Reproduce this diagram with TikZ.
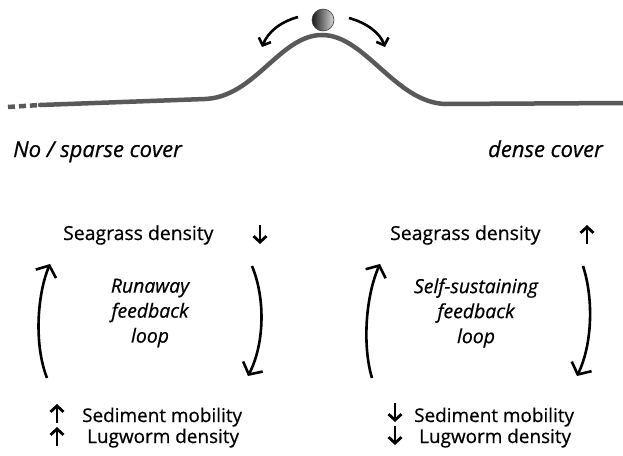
\documentclass[tikz,border=0pt]{standalone}
\usepackage{fontspec}
\setmainfont{Open Sans}[RawFeature={embolden=0.6}]
\usetikzlibrary{arrows.meta}

\tikzset{
  big/.style={font=\fontsize{19.4}{24}\selectfont, inner sep=0pt},
  cover/.style={font=\fontsize{22}{26}\selectfont\itshape, inner sep=0pt},
  small/.style={font=\fontsize{18.9}{22}\selectfont, inner sep=0pt},
  loopnote/.style={font=\fontsize{19.4}{25}\selectfont\itshape, align=center, inner sep=0pt},
  loopbend/.style={line width=2.6pt, -{Straight Barb[length=9pt,width=22pt]}},
  updown/.style={line width=2.8pt, -{Straight Barb[length=6pt,width=13pt]}},
}

\begin{document}
\begin{tikzpicture}[x=1pt,y=-1pt]
\useasboundingbox (0,0) rectangle (623,455);

\coordinate (h0) at (8,107);
\coordinate (h1) at (40,105);
\coordinate (h2) at (205,99);
\coordinate (h3) at (322,35);
\coordinate (h4) at (445,104);
\coordinate (h5) at (623,103);

  \draw[line width=4.5pt,black!65,dash pattern=on 7pt off 4pt] (h0) -- (h1);
  \draw[line width=4.5pt,black!65,line cap=round] (h1) -- (h2)
    .. controls (255,97) and (280,35) .. (h3)
    .. controls (365,35) and (395,102) .. (h4) -- (h5);

\shade[left color=black!90,right color=black!15] (323,20) circle (11);
\draw[black!75,line width=0.6pt] (323,20) circle (11);

\draw[line width=2.6pt,-{Straight Barb[length=6pt,width=13pt]}] (298,17) .. controls (280,22) and (268,32) .. (262,47);
\draw[line width=2.6pt,-{Straight Barb[length=6pt,width=13pt]}] (349,18) .. controls (367,23) and (380,33) .. (385,47);

\node[cover,anchor=base west] (sparse) at (13,157) {No / sparse cover};
\node[cover,anchor=base east] (dense) at (603,157) {dense cover};

% runaway side
\node[big,anchor=base west] (sgL) at (63,240) {Seagrass density};
\draw[updown] (260,225) -- (260,244);
\node[loopnote] (runL) at (150,313) {Runaway\\feedback\\loop};
\coordinate (aL0) at (47,378);
\coordinate (aL1) at (50,264);
\coordinate (aL2) at (252,266);
\coordinate (aL3) at (248,376);
\draw[loopbend] (aL0) .. controls (34,345) and (37,295) .. (aL1);
\draw[loopbend] (aL2) .. controls (266,300) and (264,345) .. (aL3);
\node[small,anchor=base west] (sedL) at (82,422) {Sediment mobility};
\node[small,anchor=base west] (lugL) at (87,443) {Lugworm density};
\draw[updown] (57,423) -- (57,404);
\draw[updown] (57,446) -- (57,427);

% self-sustaining side
\node[big,anchor=base west] (sgR) at (390,240) {Seagrass density};
\draw[updown] (587,244) -- (587,225);
\node[loopnote] (runR) at (476,313) {Self-sustaining\\feedback\\loop};
\coordinate (aR0) at (372,378);
\coordinate (aR1) at (380,264);
\coordinate (aR2) at (583,266);
\coordinate (aR3) at (577,376);
\draw[loopbend] (aR0) .. controls (362,345) and (366,295) .. (aR1);
\draw[loopbend] (aR2) .. controls (594,300) and (592,345) .. (aR3);
\node[small,anchor=base west] (sedR) at (414,422) {Sediment mobility};
\node[small,anchor=base west] (lugR) at (419,443) {Lugworm density};
\draw[updown] (395,403) -- (395,422);
\draw[updown] (395,426) -- (395,445);
\end{tikzpicture}
\end{document}
